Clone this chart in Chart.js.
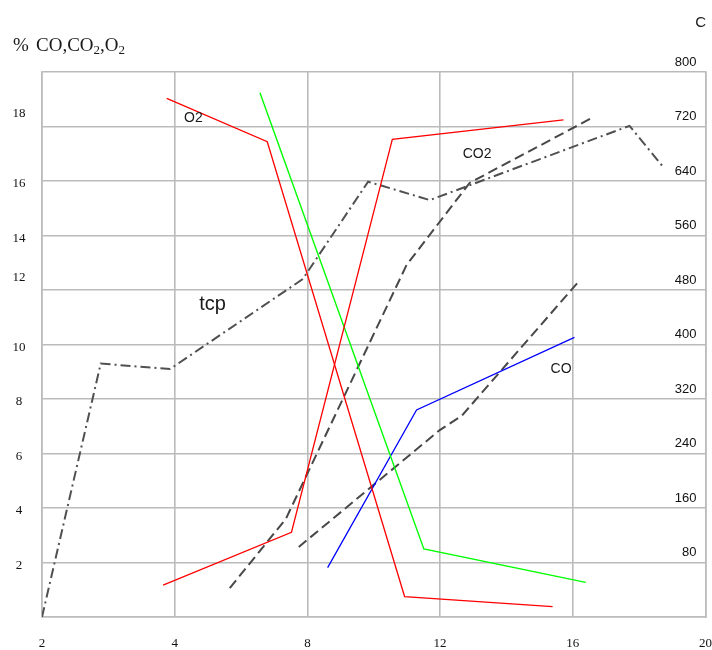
<!DOCTYPE html>
<html>
<head>
<meta charset="utf-8">
<script src="https://cdn.jsdelivr.net/npm/chart.js@4/dist/chart.umd.min.js"></script>
<style>
  html, body { margin: 0; padding: 0; background: #ffffff; }
  #wrap { width: 712px; height: 650px; }
</style>
</head>
<body>
<div id="wrap"><canvas id="c" width="712" height="650"></canvas></div>
<script>
// Tick labels (bottom axis is drawn on equal spacing)
const xTickLabels = ['2', '4', '8', '12', '16', '20'];
// 12 and 18 sit higher above their grid lines, so they carry two blank lines below
const yTickLabels = ['', '2', '4', '6', '8', '10', ['12', '', ''], '14', '16', ['18', '', ''], ''];
const tTickLabels = ['', '80', '160', '240', '320', '400', '480', '560', '640', '720', '800'];

// O2, solid red (falling)
const o2X = [3.76, 6.79, 10.93, 15.39];
const o2Y = [19.03, 17.44, 0.75, 0.38];

// CO2, solid red (rising)
const co2X = [3.65, 7.52, 10.56, 15.72];
const co2Y = [1.17, 3.11, 17.53, 18.24];

// O2, solid green
const o2gX = [6.57, 11.51, 16.39];
const o2gY = [19.24, 2.50, 1.27];

// CO, solid blue
const coX = [8.61, 11.29, 16.05];
const coY = [1.81, 7.60, 10.26];

// CO2, dashed
const co2dX = [5.66, 7.35, 10.99, 12.89, 16.63];
const co2dY = [1.06, 3.60, 12.92, 15.93, 18.35];

// CO, dashed
const codX = [7.74, 11.99, 12.65, 16.14];
const codY = [2.57, 6.86, 7.38, 12.26];

// mean temperature tcp, °C (right axis)
const tcpX = [0, 1.77, 3.86, 7.86, 9.83, 11.69, 17.71, 18.70];
const tcpT = [0, 372, 364, 496, 639, 612, 721, 662];

// in-plot captions, positioned in data units of the left axis
const captions = [
  { text: 'O2',  x: 4.28,  y: 18.15, font: '14px "Liberation Sans", Arial, sans-serif' },
  { text: 'CO2', x: 12.68, y: 16.83, font: '14px "Liberation Sans", Arial, sans-serif' },
  { text: 'CO',  x: 15.33, y: 8.97,  font: '14px "Liberation Sans", Arial, sans-serif' },
  { text: 'tcp', x: 4.74,  y: 11.25, font: '20px "Liberation Sans", Arial, sans-serif' }
];

const pts = (xs, ys) => xs.map((x, i) => ({ x: x, y: ys[i] }));

const GRID = '#bbbbbb';
const serif = '"Liberation Serif", "Times New Roman", serif';
const sans = '"Liberation Sans", Arial, sans-serif';

function line(data, color, width, dash, axis) {
  return {
    data: data,
    borderColor: color,
    borderWidth: width,
    borderDash: dash || [],
    pointRadius: 0,
    fill: false,
    tension: 0,
    yAxisID: axis || 'y'
  };
}

const captionsPlugin = {
  id: 'captions',
  afterDraw(chart) {
    const ctx = chart.ctx;
    const xs = chart.scales.x, ys = chart.scales.y;
    ctx.save();
    ctx.fillStyle = '#1a1a1a';
    ctx.textBaseline = 'alphabetic';
    ctx.textAlign = 'left';
    captions.forEach(c => {
      ctx.font = c.font;
      ctx.fillText(c.text, xs.getPixelForValue(c.x), ys.getPixelForValue(c.y));
    });

    // left axis title: % CO,CO2,O2 with subscripts
    const base = 51;
    ctx.font = '19px ' + serif;
    ctx.fillText('%', 13, base);
    let x = 36;
    const big = '19px ' + serif, small = '13px ' + serif;
    [['CO,CO', 0], ['2', 1], [',O', 0], ['2', 1]].forEach(([t, sub]) => {
      ctx.font = sub ? small : big;
      ctx.fillText(t, x, sub ? base + 3 : base);
      x += ctx.measureText(t).width;
    });

    // right axis title
    ctx.font = '15px ' + sans;
    ctx.textAlign = 'right';
    ctx.fillText('C', 706, 27);
    ctx.restore();
  }
};

new Chart(document.getElementById('c'), {
  type: 'line',
  data: {
    datasets: [
      line(pts(o2X, o2Y), '#ff0000', 1.3),
      line(pts(co2X, co2Y), '#ff0000', 1.3),
      line(pts(o2gX, o2gY), '#00ff00', 1.4),
      line(pts(coX, coY), '#0000ff', 1.3),
      line(pts(co2dX, co2dY), '#484848', 2, [10, 5]),
      line(pts(codX, codY), '#484848', 2, [10, 5]),
      line(pts(tcpX, tcpT), '#505050', 2, [10, 4, 2, 4], 'y2')
    ]
  },
  options: {
    responsive: false,
    animation: false,
    events: [],
    layout: { padding: { top: 72, left: 0, right: 0, bottom: 0 } },
    plugins: { legend: { display: false }, tooltip: { enabled: false } },
    scales: {
      x: {
        type: 'linear',
        min: 0, max: 20,
        afterFit(s) { s.height = 33; },
        grid: { color: GRID, lineWidth: 1.6, drawTicks: false },
        border: { display: true, color: GRID, width: 1.6 },
        ticks: {
          stepSize: 4,
          autoSkip: false,
          maxRotation: 0,
          padding: 0,
          color: '#111',
          font: { family: serif, size: 13, lineHeight: '54px' },
          callback: (v, i) => xTickLabels[i]
        }
      },
      y: {
        type: 'linear',
        position: 'left',
        min: 0, max: 20,
        afterFit(s) { s.width = 42; },
        grid: { color: GRID, lineWidth: 1.6, drawTicks: false },
        border: { display: true, color: GRID, width: 1.6 },
        ticks: {
          stepSize: 2,
          autoSkip: false,
          crossAlign: 'center',
          padding: 16.5,
          labelOffset: 3,
          color: '#111',
          font: { family: serif, size: 13 },
          callback: (v, i) => yTickLabels[i]
        }
      },
      y2: {
        type: 'linear',
        position: 'right',
        min: 0, max: 800,
        afterFit(s) { s.width = 6; },
        grid: { drawOnChartArea: false, drawTicks: false },
        border: { display: true, color: GRID, width: 1.6 },
        ticks: {
          stepSize: 80,
          autoSkip: false,
          mirror: true,
          padding: -9,
          labelOffset: -10,
          color: '#111',
          font: { family: sans, size: 13 },
          callback: (v, i) => tTickLabels[i]
        }
      }
    }
  },
  plugins: [captionsPlugin]
});
</script>
</body>
</html>
